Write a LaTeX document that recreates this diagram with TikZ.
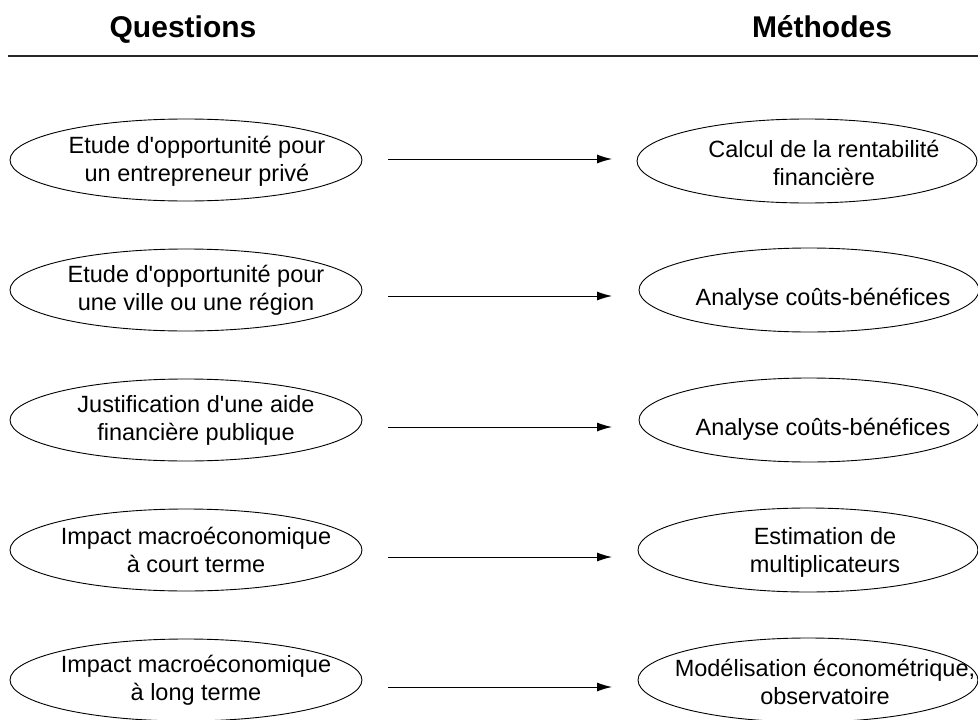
\documentclass[tikz,border=0pt]{standalone}
\usepackage{fontspec}
\setmainfont{Liberation Sans}
\usetikzlibrary{shapes.geometric,arrows.meta}
\begin{document}
\begin{tikzpicture}[x=1pt,y=-1pt,
  qbox/.style={draw,ellipse,line width=0.9pt,minimum width=352pt,minimum height=82pt,inner sep=0pt},
  mbox/.style={draw,ellipse,line width=0.9pt,minimum width=340pt,minimum height=84pt,inner sep=0pt},
  txt/.style={align=center,font=\fontsize{23.5}{28}\selectfont},
  head/.style={font=\fontsize{30}{34}\selectfont\bfseries,anchor=base},
  link/.style={line width=1pt,-{Latex[length=15pt,width=9pt]}}]
\useasboundingbox (0,0) rectangle (978,720);

% column headings and rule
\node[head] (hq) at (183,37) {Questions};
\node[head] (hm) at (822,37) {Méthodes};
\coordinate (rl) at (8,56);
\coordinate (rr) at (978,56);
\draw[line width=1.2pt,black!85] (rl) -- (rr);

% questions
\node[qbox,label={[txt,xshift=11pt,yshift=-1pt]center:{Etude d\textquotesingle opportunité pour\\un entrepreneur privé}}] (q1) at (186,160) {};
\node[qbox,label={[txt,xshift=10pt]center:{Etude d\textquotesingle opportunité pour\\une ville ou une région}}] (q2) at (186,290) {};
\node[qbox,label={[txt,xshift=10pt]center:{Justification d\textquotesingle une aide\\financière publique}}] (q3) at (186,420) {};
\node[qbox,label={[txt,xshift=10pt]center:{Impact macroéconomique\\à court terme}}] (q4) at (186,550) {};
\node[qbox,label={[txt,xshift=10pt]center:{Impact macroéconomique\\à long terme}}] (q5) at (186,680) {};

% methods
\node[mbox,label={[txt,xshift=17pt,yshift=-2pt]center:{Calcul de la rentabilité\\financière}}] (m1) at (807,161) {};
\node[mbox,label={[txt,xshift=14pt,yshift=-9pt]center:{Analyse coûts-bénéfices}}] (m2) at (809,290) {};
\node[mbox,label={[txt,xshift=14pt,yshift=-9pt]center:{Analyse coûts-bénéfices}}] (m3) at (809,420) {};
\node[mbox,label={[txt,xshift=17pt,yshift=-2pt]center:{Estimation de\\multiplicateurs}}] (m4) at (808,550) {};
\node[mbox,label={[txt,xshift=17pt,yshift=-2pt]center:{Modélisation économétrique,\\observatoire}}] (m5) at (808,680) {};

% arrows between the two columns
\foreach \i/\y in {1/159,2/296,3/427,4/557,5/687}{
  \coordinate (s\i) at (388,\y);
  \coordinate (t\i) at (612,\y);
  \draw[link] (s\i) -- (t\i);
}
\end{tikzpicture}
\end{document}
